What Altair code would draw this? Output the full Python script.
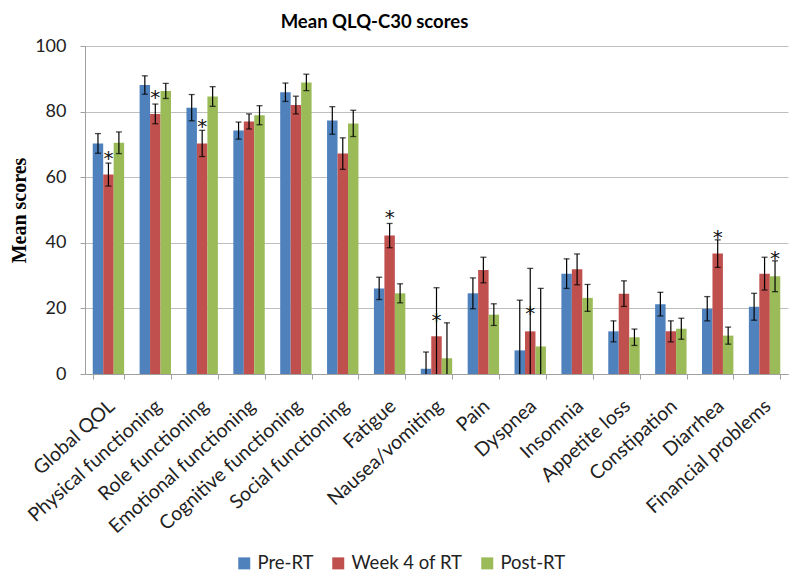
import altair as alt
import pandas as pd

categories = ["Global QOL", "Physical functioning", "Role functioning", "Emotional functioning",
              "Cognitive functioning", "Social functioning", "Fatigue", "Nausea/vomiting", "Pain",
              "Dyspnea", "Insomnia", "Appetite loss", "Constipation", "Diarrhea", "Financial problems"]
series = ["Pre-RT", "Week 4 of RT", "Post-RT"]
colors = ["#4F81BD", "#C0504D", "#9BBB59"]

pre = [70.3, 88.1, 81.2, 74.2, 85.9, 77.3, 26.1, 1.6, 24.6, 7.2, 30.6, 13.0, 21.3, 19.9, 20.5]
pre_err = [3.0, 2.8, 4.0, 2.6, 2.8, 4.2, 3.4, 5.1, 4.7, 15.3, 4.5, 3.2, 3.6, 3.7, 4.1]
wk4 = [60.8, 79.3, 70.3, 77.0, 82.0, 67.2, 42.2, 11.5, 31.7, 13.0, 31.9, 24.5, 13.0, 36.7, 30.6]
wk4_err = [3.5, 3.0, 4.0, 2.3, 2.7, 4.8, 3.7, 14.8, 3.9, 19.2, 4.7, 3.9, 3.2, 4.2, 5.0]
post = [70.5, 86.3, 84.6, 78.9, 88.9, 76.4, 24.6, 4.8, 18.1, 8.4, 23.2, 11.2, 13.8, 11.7, 29.8]
post_err = [3.3, 2.3, 3.0, 2.9, 2.5, 4.0, 2.9, 10.8, 3.3, 17.7, 4.1, 2.5, 3.2, 2.6, 4.7]

star_cat = ["Global QOL", "Physical functioning", "Role functioning", "Fatigue",
            "Nausea/vomiting", "Dyspnea", "Diarrhea", "Financial problems"]
star_series = ["Week 4 of RT", "Week 4 of RT", "Week 4 of RT", "Week 4 of RT",
               "Week 4 of RT", "Week 4 of RT", "Week 4 of RT", "Post-RT"]
star_y = [67.2, 85.8, 76.8, 49.0, 17.8, 19.7, 43.1, 36.5]

rows = []
for i, c in enumerate(categories):
    for s, vals, errs in zip(series, [pre, wk4, post], [pre_err, wk4_err, post_err]):
        rows.append(dict(cat=c, series=s, value=vals[i],
                         lo=vals[i] - errs[i], hi=vals[i] + errs[i]))
df = pd.DataFrame(rows)
stars = pd.DataFrame(dict(cat=star_cat, series=star_series, y=star_y, t=["*"] * len(star_y)))

FONT = "Lato"

x_enc = alt.X("cat:N", sort=categories,
              scale=alt.Scale(paddingInner=0.33, paddingOuter=0.165),
              axis=alt.Axis(title=None, labelAngle=-42, labelAlign="right", labelBaseline="middle",
                            tickBand="extent", grid=False, domainColor="#A0A0A0", tickColor="#A0A0A0",
                            tickSize=5, labelFont=FONT, labelFontSize=19.5, labelColor="#222222",
                            labelPadding=24, labelOffset=3, labelLimit=300))
xo_enc = alt.XOffset("series:N", sort=series, scale=alt.Scale(domain=series, paddingInner=0, paddingOuter=0))
y_scale = alt.Scale(domain=[0, 100])

bars = alt.Chart(df).mark_bar().encode(
    x=x_enc,
    xOffset=xo_enc,
    y=alt.Y("value:Q", scale=y_scale,
            axis=alt.Axis(title="Mean scores", values=[0, 20, 40, 60, 80, 100],
                          grid=True, gridColor="#BEBEBE", gridWidth=1.2,
                          domainColor="#A0A0A0", tickColor="#A0A0A0", tickSize=5,
                          labelFont=FONT, labelFontSize=18, labelColor="#222222", labelPadding=14,
                          titleFont="Liberation Serif", titleFontSize=20, titleFontWeight="bold",
                          titleColor="#000000", titleX=-66, titleY=164, titleBaseline="middle",
                          titleAlign="center", titleAngle=-90)),
    color=alt.Color("series:N", sort=series, scale=alt.Scale(domain=series, range=colors),
                    legend=alt.Legend(title=None, orient="none", direction="horizontal",
                                      legendX=150, legendY=508, symbolType="square", symbolSize=144,
                                      symbolStrokeWidth=0, labelFont=FONT, labelFontSize=18.5,
                                      labelColor="#222222", columnPadding=15, labelOffset=4, padding=0)),
)

rules = alt.Chart(df).mark_rule(color="black", strokeWidth=1.2, clip=True).encode(
    x=x_enc, xOffset=xo_enc, y=alt.Y("lo:Q", scale=y_scale), y2="hi:Q")

caps_hi = alt.Chart(df).mark_tick(color="black", thickness=1.3, size=6, orient="horizontal", clip=True).encode(
    x=x_enc, xOffset=xo_enc, y=alt.Y("hi:Q", scale=y_scale))
caps_lo = alt.Chart(df).mark_tick(color="black", thickness=1.3, size=6, orient="horizontal", clip=True).encode(
    x=x_enc, xOffset=xo_enc, y=alt.Y("lo:Q", scale=y_scale))

star_text = alt.Chart(stars).mark_text(fontSize=20, font="DejaVu Sans", color="#111111",
                                       baseline="middle", dy=5).encode(
    x=x_enc, xOffset=xo_enc, y=alt.Y("y:Q", scale=y_scale), text="t:N")

chart = alt.layer(bars, rules, caps_hi, caps_lo, star_text).properties(
    width=703, height=328,
    autosize=alt.AutoSizeParams(type="none"),
    padding={"left": 77, "top": 38, "right": 4, "bottom": 199},
    title=alt.TitleParams("Mean QLQ-C30 scores", font=FONT, fontSize=18.5, fontWeight="bold",
                          color="#000000", anchor="middle", dx=-62, offset=6, frame="group"),
).configure_view(strokeWidth=0)

chart.save("out.html", embed_options={"renderer": "svg", "actions": False})
